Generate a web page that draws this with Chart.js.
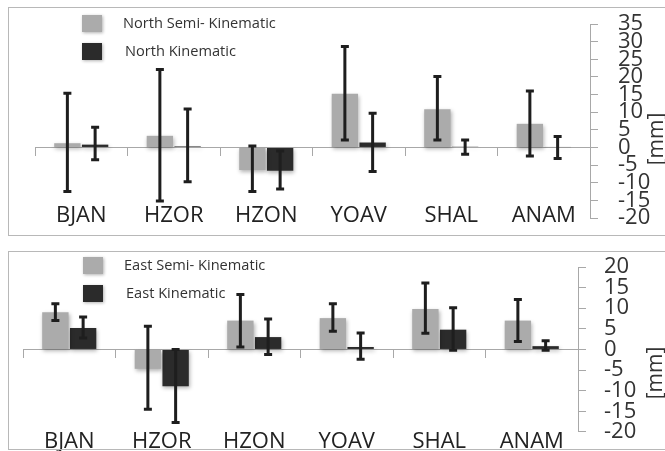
<!DOCTYPE html>
<html>
<head>
<meta charset="utf-8">
<script src="https://cdn.jsdelivr.net/npm/chart.js@4.4.1/dist/chart.umd.min.js"></script>
<style>
  html, body { margin: 0; padding: 0; background: #fff; width: 665px; height: 451px; overflow: hidden; }
  body { position: relative; font-family: "Open Sans", sans-serif; }
  canvas { position: absolute; left: 0; }
  #chartN { top: 0; }
  #chartE { top: 240px; }
  .frame { position: absolute; left: 8px; width: 700px; border: 1px solid #b8b8b8; pointer-events: none; }
  #frameN { top: 7px; height: 227px; }
  #frameE { top: 251px; height: 197px; }
  .legend-item { position: absolute; height: 18px; white-space: nowrap; font-size: 14.6px; color: #333; }
  .legend-item .box { position: absolute; left: 0; top: 0; width: 20px; height: 17px; box-shadow: 1px 1px 3px rgba(0,0,0,0.3); }
  .legend-item .txt { position: absolute; top: -3px; }
  .unit { position: absolute; font-size: 21px; color: #333; white-space: nowrap; transform: translate(-50%, -50%) rotate(-90deg); }
</style>
</head>
<body>
<canvas id="chartN" width="665" height="240"></canvas>
<canvas id="chartE" width="665" height="211"></canvas>
<div class="frame" id="frameN"></div>
<div class="frame" id="frameE"></div>
<div class="unit" style="left:655px; top:139px;">[mm]</div>
<div class="unit" style="left:654px; top:373px;">[mm]</div>
<script>
const stations = ['BJAN', 'HZOR', 'HZON', 'YOAV', 'SHAL', 'ANAM'];

// North component [mm]
const northSemi = [1.2, 3.3, -6.4, 15.2, 10.8, 6.7];
const northSemiHigh = [15.4, 22.1, 0.4, 28.6, 20.1, 16.0];
const northSemiLow = [-12.5, -15.2, -12.5, 2.1, 2.1, -2.4];
const northKin = [0.8, 0.3, -6.6, 1.4, 0.2, 0.1];
const northKinHigh = [5.7, 10.9, -1.0, 9.7, 2.1, 3.1];
const northKinLow = [-3.5, -9.7, -11.8, -6.8, -1.9, -3.1];
const northTicks = [-20, -15, -10, -5, 0, 5, 10, 15, 20, 25, 30, 35];

// East component [mm]
const eastSemi = [9.0, -4.7, 7.0, 7.6, 9.8, 7.0];
const eastSemiHigh = [11.1, 5.6, 13.3, 11.1, 16.1, 12.1];
const eastSemiLow = [7.0, -14.5, 0.6, 4.4, 3.9, 1.9];
const eastKin = [5.2, -8.9, 3.0, 0.6, 4.8, 0.8];
const eastKinHigh = [7.9, 0.0, 7.4, 4.0, 10.1, 2.1];
const eastKinLow = [2.8, -17.7, -1.2, -2.4, -0.2, -0.2];
const eastTicks = [-20, -15, -10, -5, 0, 5, 10, 15, 20];

const LIGHT = '#ababab';
const DARK = '#2b2b2b';
const AXIS = '#a8a8a8';
const FONT = '"Open Sans", sans-serif';

// error bars drawn through the value scale
const errorBars = {
  id: 'errorBars',
  afterDatasetsDraw(chart) {
    const ctx = chart.ctx;
    const y = chart.scales.y;
    chart.data.datasets.forEach((ds, d) => {
      chart.getDatasetMeta(d).data.forEach((bar, i) => {
        const top = y.getPixelForValue(ds.errHigh[i]);
        const bot = y.getPixelForValue(ds.errLow[i]);
        ctx.save();
        ctx.strokeStyle = '#1e1e1e';
        ctx.lineWidth = 3;
        ctx.beginPath();
        ctx.moveTo(bar.x, top);
        ctx.lineTo(bar.x, bot);
        ctx.moveTo(bar.x - 4, top);
        ctx.lineTo(bar.x + 4, top);
        ctx.moveTo(bar.x - 4, bot);
        ctx.lineTo(bar.x + 4, bot);
        ctx.stroke();
        ctx.restore();
      });
    });
  }
};

// soft shadow under the bars, like the original
const barShadow = {
  id: 'barShadow',
  beforeDatasetDraw(chart) {
    const ctx = chart.ctx;
    ctx.save();
    ctx.shadowColor = 'rgba(0,0,0,0.3)';
    ctx.shadowBlur = 4;
    ctx.shadowOffsetX = 1;
    ctx.shadowOffsetY = 2;
  },
  afterDatasetDraw(chart) {
    chart.ctx.restore();
  }
};

function makeChart(id, sets, ticks, pad, axisWidth, labelPadding, labelAt) {
  return new Chart(document.getElementById(id), {
    type: 'bar',
    data: {
      labels: stations,
      datasets: sets.map(s => ({
        label: s.label,
        data: s.data,
        errHigh: s.high,
        errLow: s.low,
        backgroundColor: s.color,
        borderWidth: 0,
        categoryPercentage: 0.6,
        barPercentage: 0.95
      }))
    },
    options: {
      responsive: false,
      animation: false,
      devicePixelRatio: 1,
      layout: { padding: pad },
      plugins: { legend: { display: false }, tooltip: { enabled: false } },
      scales: {
        // zero line with the category tick marks
        x: {
          type: 'category',
          axis: 'x',
          position: { y: 0 },
          offset: true,
          grid: { display: true, drawOnChartArea: false, offset: true, tickLength: 8, color: AXIS },
          border: { display: true, color: AXIS, width: 1 },
          ticks: { display: false }
        },
        // station names sit low inside the plot
        xl: {
          type: 'category',
          axis: 'x',
          position: { y: labelAt },
          offset: true,
          grid: { display: false, drawTicks: false },
          border: { display: false },
          ticks: { padding: 0, autoSkip: false, maxRotation: 0, color: '#222', font: { family: FONT, size: 22 } }
        },
        y: {
          position: 'right',
          min: ticks[0],
          max: ticks[ticks.length - 1],
          afterBuildTicks(scale) { scale.ticks = ticks.map(v => ({ value: v })); },
          afterFit(scale) { scale.width = axisWidth; },
          grid: { drawOnChartArea: false, tickLength: 8, color: AXIS },
          border: { color: AXIS },
          ticks: { padding: labelPadding, autoSkip: false, color: '#333', font: { family: FONT, size: 22, lineHeight: 0.1 } }
        }
      }
    },
    plugins: [barShadow, errorBars]
  });
}

function makeLegend(chart, left, top, rowGap) {
  chart.data.datasets.forEach((ds, i) => {
    const item = document.createElement('div');
    item.className = 'legend-item';
    item.style.left = left + 'px';
    item.style.top = (top + i * rowGap) + 'px';
    item.innerHTML = '<span class="box" style="background:' + ds.backgroundColor + '"></span>' +
      '<span class="txt" style="left:' + (41 + i * 2) + 'px">' + ds.label + '</span>';
    document.body.appendChild(item);
  });
}

const northChart = makeChart('chartN', [
  { label: 'North Semi- Kinematic', data: northSemi, high: northSemiHigh, low: northSemiLow, color: LIGHT },
  { label: 'North Kinematic', data: northKin, high: northKinHigh, low: northKinLow, color: DARK }
], northTicks, { left: 35, top: 24, bottom: 22, right: 0 }, 75, 20, -15.7);

const eastChart = makeChart('chartE', [
  { label: 'East Semi- Kinematic', data: eastSemi, high: eastSemiHigh, low: eastSemiLow, color: LIGHT },
  { label: 'East Kinematic', data: eastKin, high: eastKinHigh, low: eastKinLow, color: DARK }
], eastTicks, { left: 23, top: 27, bottom: 18, right: 0 }, 87, 18, -19.3);

makeLegend(northChart, 82, 15, 28);
makeLegend(eastChart, 83, 257, 28);
</script>
</body>
</html>
